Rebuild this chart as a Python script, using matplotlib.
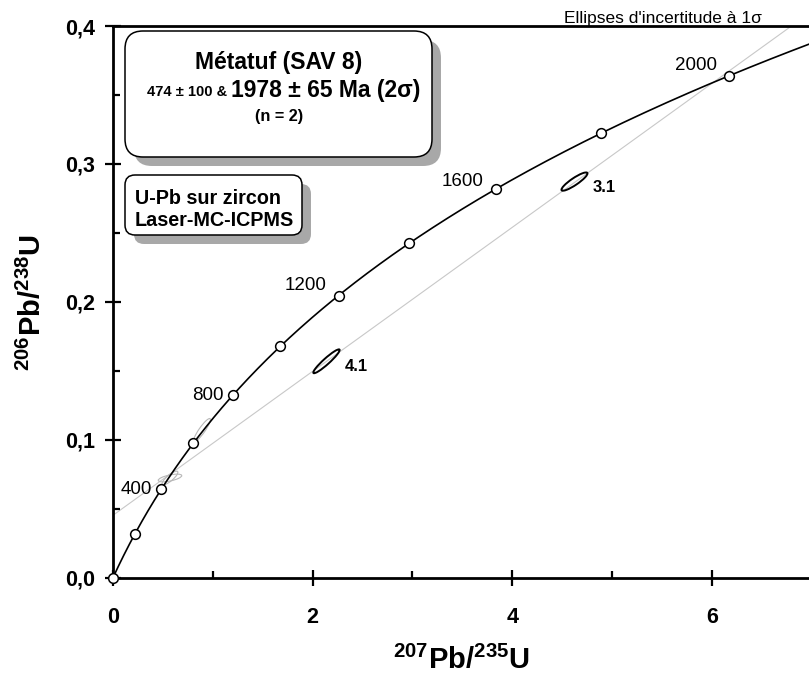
import numpy as np
import matplotlib
matplotlib.use('Agg')
import matplotlib.pyplot as plt
from matplotlib import transforms
from matplotlib.patches import Ellipse, FancyBboxPatch
from matplotlib.ticker import FuncFormatter, MultipleLocator

plt.rcParams['font.family'] = ['Liberation Sans', 'DejaVu Sans']
plt.rcParams['mathtext.fontset'] = 'custom'
plt.rcParams['mathtext.rm'] = 'Liberation Sans'
plt.rcParams['mathtext.bf'] = 'Liberation Sans:bold'

# Decay constants (per year)
L235 = 9.8485e-10
L238 = 1.55125e-10

# Concordia tick ages (Ma) and the labelled ones
marker_ages = [0, 200, 400, 600, 800, 1000, 1200, 1400, 1600, 1800, 2000]
label_ages = [400, 800, 1200, 1600, 2000]
label_offsets = [(-9, 0), (-9, 0), (-12, 10), (-12, 8), (-12, 10)]  # pixels

# Discordia intercepts (Ma)
lower_age = 474
upper_age = 1978

# Analyses (207/235, 206/238), ellipse size in pixels and angle
spot_names = ['3.1', '4.1']
spot_x = [4.624, 2.139]
spot_y = [0.2872, 0.1569]
spot_len = [31, 35]
spot_wid = [7, 6]
spot_ang = [34, 42]

# faint (rejected) ellipses
faint_x = [0.571, 0.571, 0.892]
faint_y = [0.0723, 0.0723, 0.107]
faint_len = [24, 20, 28]
faint_wid = [6, 6, 6]
faint_ang = [12, 40, 55]


def concordia(age_ma):
    t = np.asarray(age_ma, dtype=float) * 1e6
    return np.exp(L235 * t) - 1, np.exp(L238 * t) - 1


W, H = 809, 679
fig = plt.figure(figsize=(W / 100, H / 100), dpi=100)
# pixel coordinates with origin top-left
px = transforms.Affine2D().scale(1 / W, -1 / H).translate(0, 1) + fig.transFigure

x0, x1 = 113, 809
y0, y1 = 26, 577.7
ax = fig.add_axes([x0 / W, 1 - y1 / H, (x1 - x0) / W, (y1 - y0) / H])
ax.set_xlim(0, (x1 - x0) / 99.8)
ax.set_ylim(0, 0.4)

# discordia
dx, dy = concordia([lower_age, upper_age])
slope = (dy[1] - dy[0]) / (dx[1] - dx[0])
inter = dy[0] - slope * dx[0]
xs = np.array([0, 8])
ax.plot(xs, inter + slope * xs, color='#c8c8c8', lw=0.8, zorder=1)

# faint ellipses
for x, y, l, w, a in zip(faint_x, faint_y, faint_len, faint_wid, faint_ang):
    tr = transforms.IdentityTransform() + transforms.ScaledTranslation(x, y, ax.transData)
    ax.add_patch(Ellipse((0, 0), l, w, angle=a, transform=tr, fill=False,
                         ec='#b8b8b8', lw=0.8, zorder=2))

# concordia curve
cx, cy = concordia(np.linspace(0, 2300, 400))
ax.plot(cx, cy, color='black', lw=1.2, zorder=3)
mx, my = concordia(marker_ages)
ax.plot(mx, my, 'o', ms=7, mfc='white', mec='black', mew=1.1, zorder=4, clip_on=False)

for age, (ox, oy) in zip(label_ages, label_offsets):
    lx, ly = concordia(age)
    ax.annotate(str(age), (lx, ly), xytext=(ox * 0.72, oy * 0.72), textcoords='offset points',
                ha='right', va='center', fontsize=13.5, zorder=5)

# analyses
for name, x, y, l, w, a in zip(spot_names, spot_x, spot_y, spot_len, spot_wid, spot_ang):
    tr = transforms.IdentityTransform() + transforms.ScaledTranslation(x, y, ax.transData)
    ax.add_patch(Ellipse((0, 0), l, w, angle=a, transform=tr, fill=False,
                         ec='black', lw=1.4, zorder=5))
    ax.annotate(name, (x, y), xytext=(13, -4), textcoords='offset points',
                ha='left', va='center', fontsize=12, fontweight='bold')

# axes styling
for s in ['right']:
    ax.spines[s].set_visible(False)
for s in ['left', 'bottom', 'top']:
    ax.spines[s].set_linewidth(2)
ax.xaxis.set_major_locator(MultipleLocator(2))
ax.xaxis.set_minor_locator(MultipleLocator(1))
ax.yaxis.set_major_locator(MultipleLocator(0.1))
ax.yaxis.set_minor_locator(MultipleLocator(0.05))
ax.xaxis.set_major_formatter(FuncFormatter(lambda v, p: f'{v:.0f}'))
ax.yaxis.set_major_formatter(FuncFormatter(lambda v, p: f'{v:.1f}'.replace('.', ',')))
ax.tick_params(which='major', direction='inout', length=11.5, width=1.6, labelsize=15.5)
ax.tick_params(which='minor', direction='in', length=5, width=1.6)
ax.tick_params(axis='x', which='major', pad=15)
ax.tick_params(axis='y', which='major', pad=7)
for lab in ax.get_xticklabels() + ax.get_yticklabels():
    lab.set_fontweight('bold')

# axis titles
fig.text(461, 660, r'$\mathbf{^{207}Pb/^{235}U}$', transform=px, ha='center', va='center',
         fontsize=21)
fig.text(32, 303, r'$\mathbf{^{206}Pb/^{238}U}$', transform=px, ha='center', va='center',
         fontsize=21, rotation=90)

fig.text(762, 23, "Ellipses d'incertitude à 1σ", transform=px, ha='right', va='baseline',
         fontsize=12.5)

# boxes with shadows
def box(x, y, w, h, r):
    fig.patches.append(FancyBboxPatch((x + 9, y + 9), w, h, boxstyle=f'round,pad=0,rounding_size={r}',
                                      transform=px, fc='#a8a8a8', ec='none', zorder=6))
    fig.patches.append(FancyBboxPatch((x, y), w, h, boxstyle=f'round,pad=0,rounding_size={r}',
                                      transform=px, fc='white', ec='black', lw=1.1, zorder=7))

box(125, 31, 307, 126, 18)
box(125, 175, 177, 60, 10)

fig.text(279, 62, 'Métatuf (SAV 8)', transform=px, ha='center', va='center',
         fontsize=16.5, fontweight='bold', zorder=8)
fig.text(231, 96.5, '474 ± 100 & ', transform=px, ha='right', va='baseline',
         fontsize=10.5, fontweight='bold', zorder=8)
fig.text(231, 96.5, '1978 ± 65 Ma (2σ)', transform=px, ha='left', va='baseline',
         fontsize=16.5, fontweight='bold', zorder=8)
fig.text(279, 117, '(n = 2)', transform=px, ha='center', va='center',
         fontsize=11.7, fontweight='bold', zorder=8)

fig.text(135, 198, 'U-Pb sur zircon', transform=px, ha='left', va='center',
         fontsize=14.2, fontweight='bold', zorder=8)
fig.text(135, 221, 'Laser-MC-ICPMS', transform=px, ha='left', va='center',
         fontsize=14.2, fontweight='bold', zorder=8)

fig.savefig('out.png', dpi=100)
